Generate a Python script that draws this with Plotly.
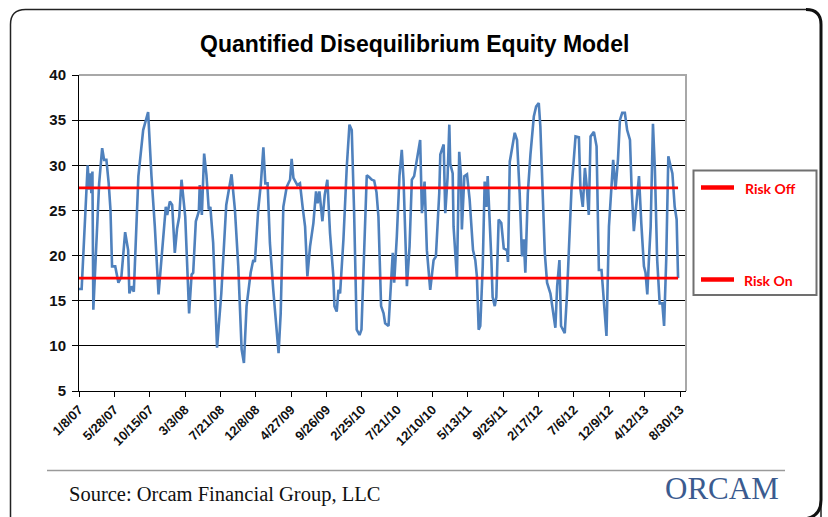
import plotly.graph_objects as go

# ---------------- data ----------------
# week index since 1/8/07 (weekly categories) and model value at each visible vertex
week = [0, 1.5, 4.9, 5.7, 6.4, 7.0, 7.6, 8.1, 11.4, 13.1, 14.2, 15.5, 16.8, 17.8, 18.7, 20.5,
        22.3, 24.0, 26.1, 27.8, 28.5, 29.7, 31.0, 33.6, 36.3, 39.1, 41.0, 42.9, 45.0, 46.7,
        49.1, 49.9, 51.4, 52.7, 54.2, 55.5, 56.7, 58.0, 60.1, 62.3, 63.7, 64.6, 66.1, 67.8,
        68.3, 69.5, 70.8, 72.1, 73.4, 74.3, 75.9, 78.1, 80.5, 83.3, 86.3, 88.2, 90.1, 92.0,
        93.3, 94.8, 97.1, 98.6, 99.5, 101.4, 102.9, 104.3, 105.4, 106.7, 108.0, 109.9, 111.8,
        112.9, 114.1, 115.6, 117.5, 119.4, 120.3, 121.3, 123.5, 125.0, 126.5, 127.9, 129.2,
        130.7, 132.6, 134.1, 135.0, 136.0, 137.7, 139.0, 140.5, 142.0, 143.9, 144.5, 145.8,
        146.8, 147.7, 149.6, 151.5, 153.0, 154.3, 155.6, 157.1, 158.7, 159.8, 161.3, 162.8,
        164.1, 165.6, 167.0, 168.3, 169.4, 170.9, 172.3, 173.2, 175.1, 176.4, 177.5, 178.3,
        179.8, 181.3, 182.6, 183.6, 185.5, 187.0, 188.3, 189.6, 191.1, 193.0, 194.0, 195.5,
        196.8, 198.7, 200.6, 201.9, 203.8, 204.4, 206.3, 207.2, 208.5, 209.5, 210.0, 211.4,
        211.9, 213.8, 215.1, 216.1, 216.6, 218.0, 219.5, 221.0, 222.9, 224.2, 225.1, 226.1,
        227.0, 228.4, 229.5, 230.4, 231.2, 232.1, 233.3, 234.0, 235.2, 236.1, 237.4, 238.9,
        240.3, 242.1, 242.7, 243.7, 245.0, 246.5, 247.8, 249.3, 250.6, 251.6, 252.5, 253.9,
        255.4, 257.3, 258.6, 260.1, 261.0, 262.4, 263.5, 264.8, 266.7, 269.5, 270.5, 271.8,
        272.7, 274.8, 276.1, 277.7, 278.6, 279.9, 280.9, 282.8, 283.7, 285.0, 286.2, 287.1,
        288.4, 289.4, 291.3, 292.8, 294.1, 295.6, 296.9, 298.4, 299.8, 301.1, 302.2, 303.5,
        304.9, 306.0, 307.3, 308.8, 310.1, 311.7, 312.6, 313.9, 315.2, 316.8, 318.1, 319.6,
        320.5, 321.5, 322.4, 323.4, 324.7, 325.8, 327.1, 328.5, 330.0, 331.0, 332.2, 333.4,
        334.7, 335.7, 337.0, 338.1, 338.9]
qde = [16.3, 16.3, 30.0, 27.3, 29.1, 26.9, 29.3, 14.0, 28.0, 31.9, 30.6, 30.6, 28.0, 25.1, 18.8, 18.8,
       17.0, 17.7, 22.6, 20.6, 15.8, 16.6, 16.0, 28.8, 33.9, 35.9, 28.8, 23.2, 15.7, 19.5,
       25.4, 24.5, 26.0, 25.6, 20.3, 23.0, 24.3, 28.4, 24.3, 13.6, 17.9, 18.1, 23.8, 24.9,
       27.8, 24.5, 31.3, 28.9, 25.1, 25.4, 21.4, 9.8, 15.8, 25.6, 29.0, 25.1, 18.8, 9.6,
       8.1, 14.4, 18.1, 19.5, 19.3, 25.1, 28.0, 32.0, 28.0, 28.0, 21.4, 16.2, 11.1,
       9.2, 13.6, 25.4, 27.6, 28.4, 30.7, 28.6, 27.8, 28.0, 25.4, 23.2, 17.7,
       21.0, 23.6, 27.1, 25.8, 27.1, 23.8, 26.7, 28.4, 22.5, 17.7, 14.4, 13.8,
       16.2, 15.8, 21.8, 29.9, 34.5, 33.9, 25.1, 11.8, 11.2, 11.8, 21.4, 28.9,
       28.7, 28.4, 28.3, 27.0, 24.3, 14.4, 13.6, 12.5, 12.2, 16.6, 20.3, 17.0,
       22.1, 28.8, 31.7, 28.4, 16.6, 21.0, 28.4, 28.8, 30.6, 32.8, 24.7, 28.2,
       20.6, 16.2, 19.5, 19.9, 26.9, 31.2, 32.3, 24.7, 28.6, 34.5, 30.2, 29.1,
       23.2, 17.5, 31.5, 28.8, 22.9, 28.8, 29.0, 26.2, 20.6, 19.5, 17.7, 11.8,
       12.2, 18.8, 28.2, 25.4, 28.8, 25.4, 19.5, 15.4, 14.4, 15.4, 24.0, 23.6,
       20.8, 20.6, 19.3, 30.4, 32.1, 33.6, 32.8, 26.9, 19.9, 21.8, 18.1, 26.9,
       31.2, 35.4, 36.5, 36.9, 34.3, 26.2, 20.3, 17.0, 15.8, 12.0, 16.6, 19.5,
       12.2, 11.4, 15.8, 23.2, 27.3, 30.6, 33.2, 33.1, 27.3, 25.4, 29.7, 28.0,
       24.5, 33.2, 33.7, 32.1, 18.4, 18.4, 15.1, 11.1, 23.2, 26.9, 30.6, 27.3,
       30.6, 35.0, 35.8, 35.8, 33.9, 32.8, 27.6, 22.7, 25.1, 28.8, 23.6, 18.8,
       18.1, 15.7, 19.5, 23.2, 34.6, 29.5, 19.5, 14.7, 14.7, 12.2, 19.5, 31.0,
       29.9, 29.1, 25.4, 24.0, 17.5]

risk_off = 27.5
risk_on = 17.5

tick_labels = ["1/8/07", "5/28/07", "10/15/07", "3/3/08", "7/21/08", "12/8/08", "4/27/09",
               "9/26/09", "2/25/10", "7/21/10", "12/10/10", "5/13/11", "9/25/11", "2/17/12",
               "7/6/12", "12/9/12", "4/12/13", "8/30/13"]
weeks_per_label = 20
y_ticks = [5, 10, 15, 20, 25, 30, 35, 40]

title_text = "Quantified Disequilibrium Equity Model"
source_text = "Source: Orcam Financial Group, LLC"
logo_text = "ORCAM"

# ---------------- layout helpers (pixel -> paper) ----------------
W, H = 828, 517
ML, MR, MT, MB = 79, 142, 75, 126
PW = W - ML - MR
PH = H - MT - MB


def px(x):
    return (x - ML) / PW


def py(y):
    return (H - MB - y) / PH


def path(points_cmds):
    out = []
    for cmd in points_cmds:
        if isinstance(cmd, str):
            out.append(cmd)
        else:
            out.append(f"{px(cmd[0]):.5f},{py(cmd[1]):.5f}")
    return " ".join(out)


fig = go.Figure()

blue = "#4f81bd"
red = "#ff0000"

fig.add_trace(go.Scatter(x=week, y=qde, mode="lines",
                         line=dict(color=blue, width=2.6), name="QDE",
                         showlegend=False, hoverinfo="x+y"))
x_end = week[-1]
fig.add_trace(go.Scatter(x=[0, x_end], y=[risk_off, risk_off], mode="lines",
                         line=dict(color=red, width=2.6), name="Risk Off", showlegend=False))
fig.add_trace(go.Scatter(x=[0, x_end], y=[risk_on, risk_on], mode="lines",
                         line=dict(color=red, width=2.6), name="Risk On", showlegend=False))

tick_vals = [i * weeks_per_label for i in range(len(tick_labels))]
x_max = (686 - ML) / (680 - ML) * tick_vals[-1]

axis_font = dict(family="Liberation Sans, Arial, sans-serif", color="#111111", weight="bold")

fig.update_xaxes(range=[0, x_max], tickvals=tick_vals, ticktext=tick_labels,
                 tickangle=-45, tickfont=dict(size=13, **axis_font),
                 showline=True, linecolor="black", linewidth=1, ticks="outside",
                 ticklen=5, tickcolor="black", showgrid=False, zeroline=False)
fig.update_yaxes(range=[5, 40], tickvals=y_ticks, tickfont=dict(size=15, **axis_font),
                 showline=True, linecolor="black", linewidth=1, ticks="outside",
                 ticklen=6, tickcolor="black", showgrid=True, gridcolor="black",
                 gridwidth=1, zeroline=False, ticklabelstandoff=3)

shapes = []
# gray top/right border of plot area
shapes.append(dict(type="path", xref="paper", yref="paper",
                   path="M 0,1 L 1,1 L 1,0", line=dict(color="#a8a8a8", width=2), layer="above"))
# outer rounded frame
r = 15
L, T, R, B = 10.5, 9.5, 821, 530
frame = path(["M", (L, B), "L", (L, T + r), "Q", (L, T), (L + r, T), "L", (R - r, T),
              "Q", (R, T), (R, T + r), "L", (R, B)])
shapes.append(dict(type="path", xref="paper", yref="paper", path=frame,
                   line=dict(color="#222222", width=1.5), layer="below"))
right = path(["M", (R - r, T), "Q", (R, T), (R, T + r), "L", (R, 500), "Q", (R, 517), (R - 17, 519)])
shapes.append(dict(type="path", xref="paper", yref="paper", path=right,
                   line=dict(color="#111111", width=3), layer="below"))
# legend box
shapes.append(dict(type="rect", xref="paper", yref="paper",
                   x0=px(693.5), x1=px(816.5), y0=py(295), y1=py(170.5),
                   line=dict(color="#707070", width=2), fillcolor="white", layer="above"))
for yy in (187.5, 279.5):
    shapes.append(dict(type="line", xref="paper", yref="paper",
                       x0=px(701), x1=px(734), y0=py(yy), y1=py(yy),
                       line=dict(color=red, width=4.5)))
# footer rule
shapes.append(dict(type="line", xref="paper", yref="paper",
                   x0=px(47), x1=px(785), y0=py(470.5), y1=py(470.5),
                   line=dict(color="#9a9a9a", width=1.5)))

annotations = [
    dict(text=title_text, xref="paper", yref="paper", x=px(414), y=py(44),
         xanchor="center", yanchor="middle", showarrow=False,
         font=dict(family="Liberation Sans, Arial, sans-serif", size=23, color="#000000",
                   weight="bold")),
    dict(text="Risk Off", xref="paper", yref="paper", x=px(743), y=py(188),
         xanchor="left", yanchor="middle", showarrow=False,
         font=dict(family="Lato, sans-serif", size=14, color=red, weight="bold")),
    dict(text="Risk On", xref="paper", yref="paper", x=px(742), y=py(280),
         xanchor="left", yanchor="middle", showarrow=False,
         font=dict(family="Lato, sans-serif", size=14, color=red, weight="bold")),
    dict(text=source_text, xref="paper", yref="paper", x=px(67), y=py(494),
         xanchor="left", yanchor="middle", showarrow=False,
         font=dict(family="Liberation Serif, Times New Roman, serif", size=20.5, color="#111111")),
    dict(text=logo_text, xref="paper", yref="paper", x=px(722), y=py(488),
         xanchor="center", yanchor="middle", showarrow=False,
         font=dict(family="Liberation Serif, serif", size=31, color="#3b5b8f")),
]

fig.update_layout(width=W, height=H, margin=dict(l=ML, r=MR, t=MT, b=MB, autoexpand=False),
                  paper_bgcolor="white", plot_bgcolor="white", showlegend=False,
                  shapes=shapes, annotations=annotations)

fig.write_html("out.html", config={"displayModeBar": False},
               post_script="document.body.style.margin='0';")
